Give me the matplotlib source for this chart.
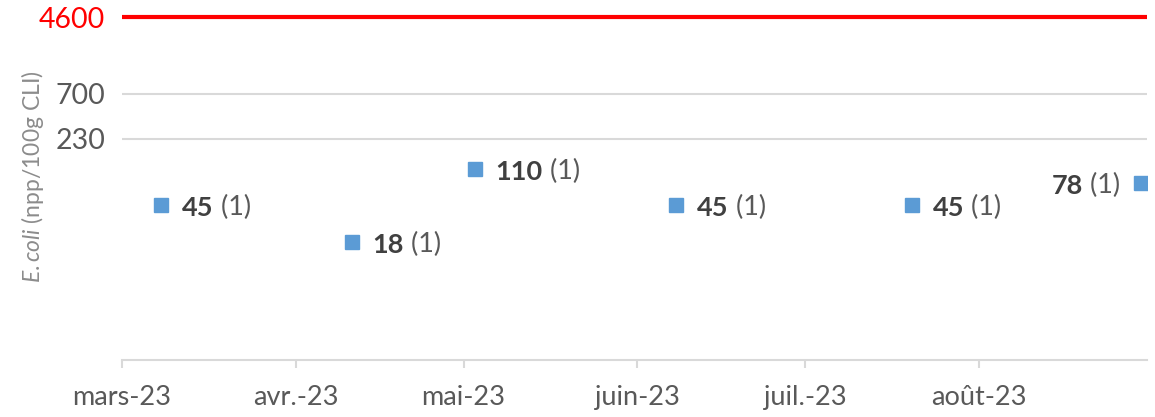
import matplotlib
matplotlib.use("Agg")
import matplotlib.pyplot as plt
from datetime import date

plt.rcParams["font.family"] = ["Lato", "DejaVu Sans"]
plt.rcParams["mathtext.fontset"] = "custom"
plt.rcParams["mathtext.it"] = "Lato:italic"
plt.rcParams["mathtext.rm"] = "Lato"

# sample dates and E.coli results (npp/100g CLI)
dates = [date(2023, 3, 8), date(2023, 4, 11), date(2023, 5, 3),
         date(2023, 6, 8), date(2023, 7, 20), date(2023, 8, 30)]
values = [45, 18, 110, 45, 45, 78]
counts = [1, 1, 1, 1, 1, 1]

threshold = 4600
ytick_values = [230, 700, 4600]
tick_dates = [date(2023, m, 1) for m in range(3, 9)]
tick_labels = ["mars-23", "avr.-23", "mai-23", "juin-23", "juil.-23", "août-23"]

fig = plt.figure(figsize=(11.55, 4.17), dpi=100)
ax = fig.add_axes([0.1056, 0.1367, 0.8874, 0.8441])
ax.set_yscale("log")
ax.set_ylim(1, 5760)
ax.set_xlim(date(2023, 3, 1), date(2023, 8, 31))

# grid + threshold line
ax.set_yticks(ytick_values, labels=[str(v) for v in ytick_values])
ax.minorticks_off()
ax.yaxis.grid(True, color="#d9d9d9", linewidth=1.5)
ax.set_axisbelow(True)
ax.axhline(threshold, color="#ff0000", linewidth=3, zorder=2)

ax.plot(dates, values, linestyle="none", marker="s", markersize=10.5,
        color="#5b9bd5", zorder=3)

# labels: bold value + count
fs = 19.5
for d, v, n in zip(dates, values, counts):
    if d == dates[-1]:
        t2 = ax.annotate(f" ({n})", xy=(d, v), xytext=(-15, -2),
                         textcoords="offset points", ha="right", va="center",
                         fontsize=fs, color="#595959")
        ax.annotate(str(v), xy=(0, 0), xycoords=t2, ha="right", va="bottom",
                    fontsize=fs, fontweight="bold", color="#404040")
    else:
        t1 = ax.annotate(str(v), xy=(d, v), xytext=(15, -2),
                         textcoords="offset points", ha="left", va="center",
                         fontsize=fs, fontweight="bold", color="#404040")
        ax.annotate(f" ({n})", xy=(1, 0), xycoords=t1, ha="left", va="bottom",
                    fontsize=fs, color="#595959")

ax.set_xticks(tick_dates, labels=tick_labels)

for s in ["left", "right", "top"]:
    ax.spines[s].set_visible(False)
ax.spines["bottom"].set_color("#d9d9d9")
ax.spines["bottom"].set_linewidth(1.5)

ax.tick_params(axis="x", length=6, width=1.5, color="#d9d9d9",
               labelsize=19.5, labelcolor="#595959", pad=12)
ax.tick_params(axis="y", length=0, labelsize=20.5, labelcolor="#595959", pad=12)
ax.get_yticklabels()[-1].set_color("#ff0000")

ax.set_ylabel(r"$\mathit{E.coli}$ (npp/100g CLI)", fontsize=16.5, color="#8c8c8c")
ax.yaxis.set_label_coords(-0.074, 0.52)

fig.savefig("out.png", dpi=100)
